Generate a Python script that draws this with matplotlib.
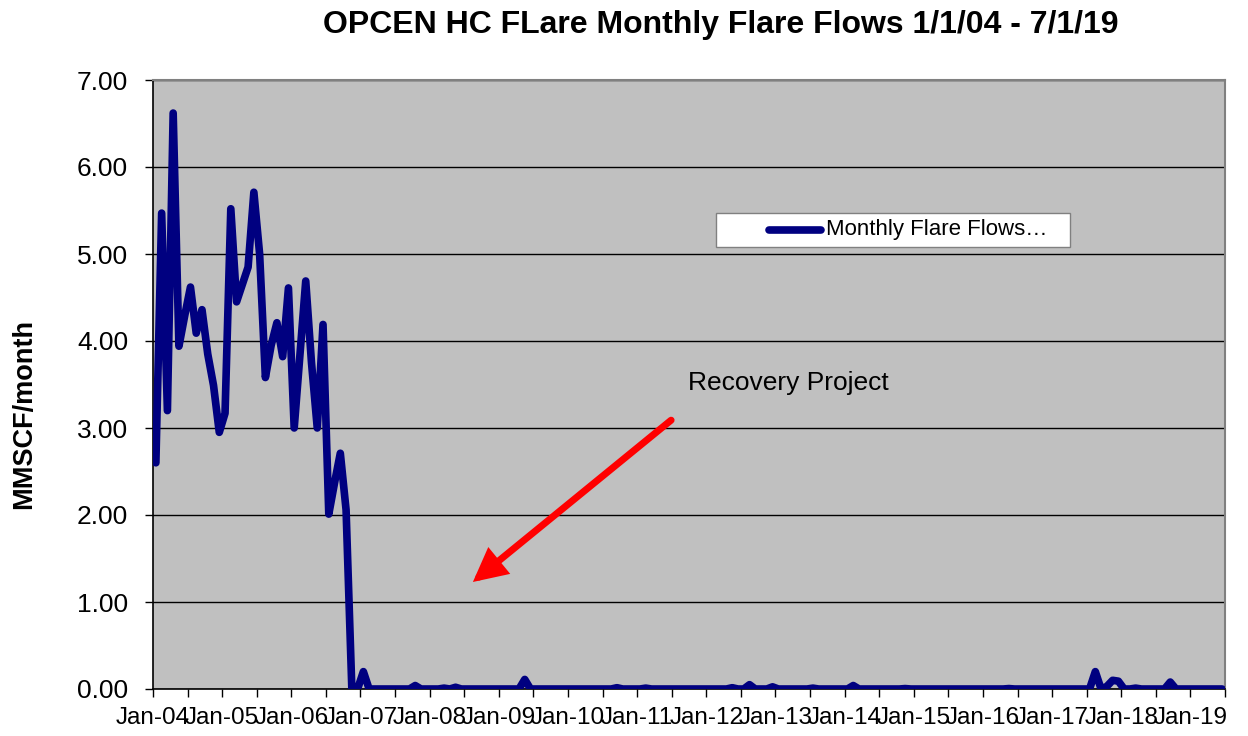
"""
OPCEN HC flare - monthly flare flows 1/1/04 - 7/1/19
"""
import matplotlib
matplotlib.use("Agg")
import matplotlib.pyplot as plt
from matplotlib.patches import Rectangle
from matplotlib.lines import Line2D

plt.rcParams['font.family'] = ['Liberation Sans', 'DejaVu Sans']

# monthly flows, Jan-04 .. Jun-19 (MMSCF/month)
early_flows = [2.60, 5.47, 3.20, 6.62, 3.94, 4.29, 4.62, 4.09, 4.36, 3.85,
               3.49, 2.95, 3.17, 5.52, 4.45, 4.65, 4.85, 5.71, 5.00, 3.58,
               3.95, 4.21, 3.82, 4.61, 3.00, 3.85, 4.69, 3.75, 3.00, 4.19,
               2.01, 2.37, 2.71, 2.06, 0.00, 0.00, 0.20]
# small blips after the recovery project (month index -> value)
late_blips = {45: 0.04, 50: 0.01, 52: 0.02, 64: 0.11, 80: 0.015, 85: 0.01,
              100: 0.015, 103: 0.05, 107: 0.025, 114: 0.01, 121: 0.04,
              130: 0.005, 148: 0.005, 163: 0.20, 165: 0.03, 166: 0.10,
              167: 0.09, 170: 0.01, 176: 0.08}
n_months = 186
start_year = 4

flows = list(early_flows) + [0.0] * (n_months - len(early_flows))
for m, v in late_blips.items():
    flows[m] = v

tick_months = list(range(0, n_months + 1, 6))
tick_labels = [f"Jan-{start_year + m // 12:02d}" if m % 12 == 0 and m < n_months else ""
               for m in tick_months]
y_ticks = [0, 1, 2, 3, 4, 5, 6, 7]

fig = plt.figure(figsize=(12.48, 7.36), dpi=100)
ax = fig.add_axes([153 / 1248, 1 - 689 / 736, 1072 / 1248, 609 / 736])
ax.set_facecolor('#C0C0C0')

# category axis: points sit in the middle of each month slot
x = [m + 0.5 for m in range(n_months)]
ax.plot(x, flows, color='#000080', linewidth=5.5, solid_joinstyle='round',
        solid_capstyle='round', zorder=3)

ax.set_xlim(0, n_months)
ax.set_ylim(0, 7)
ax.set_xticks(tick_months)
ax.set_xticklabels(tick_labels, fontsize=17.5)
ax.set_yticks(y_ticks)
ax.set_yticklabels([f"{v:.2f}" for v in y_ticks], fontsize=19)
ax.tick_params(axis='both', direction='out', length=6, width=1, color='black')
ax.tick_params(axis='x', pad=7)
ax.tick_params(axis='y', pad=12)

ax.grid(axis='y', color='black', linewidth=1)
ax.set_axisbelow(True)
for side in ['top', 'right']:
    ax.spines[side].set_color('#808080')
    ax.spines[side].set_linewidth(1.5)
for side in ['left', 'bottom']:
    ax.spines[side].set_color('black')
    ax.spines[side].set_linewidth(1.2)

# legend box drawn by hand to match the original spacing
lx0, lx1 = (716 - 153) / 1072, (1070 - 153) / 1072
ly0, ly1 = (689 - 247) / 609, (689 - 213) / 609
ax.add_patch(Rectangle((lx0, ly0), lx1 - lx0, ly1 - ly0, transform=ax.transAxes,
                       facecolor='white', edgecolor='#808080', linewidth=1, zorder=4))
ly = (ly0 + ly1) / 2
ax.add_line(Line2D([(769 - 153) / 1072, (821 - 153) / 1072], [ly, ly],
                   transform=ax.transAxes, color='#000080', linewidth=5.5,
                   solid_capstyle='round', zorder=5))
ax.text((826 - 153) / 1072, ly, "Monthly Flare Flows\u2026", transform=ax.transAxes,
        fontsize=16, ha='left', va='center', zorder=5)

# annotation
ax.annotate('', xy=(55.5, 1.23), xytext=(89.9, 3.09),
            arrowprops=dict(arrowstyle='-|>,head_length=0.55,head_width=0.28',
                            color='red', lw=5, mutation_scale=30,
                            joinstyle='miter', shrinkA=0, shrinkB=0), zorder=4)
ax.text(92.8, 3.52, "Recovery Project", fontsize=19, ha='left', va='center', zorder=4)

fig.text(721 / 1248, 1 - 25 / 736, "OPCEN HC FLare Monthly Flare Flows 1/1/04 - 7/1/19",
         fontsize=23, fontweight='bold', ha='center', va='center')
fig.text(24 / 1248, 1 - 414 / 736, "MMSCF/month", fontsize=19.5, fontweight='bold',
         rotation=90, ha='center', va='center')

fig.savefig('out.png', dpi=100, facecolor='white')
